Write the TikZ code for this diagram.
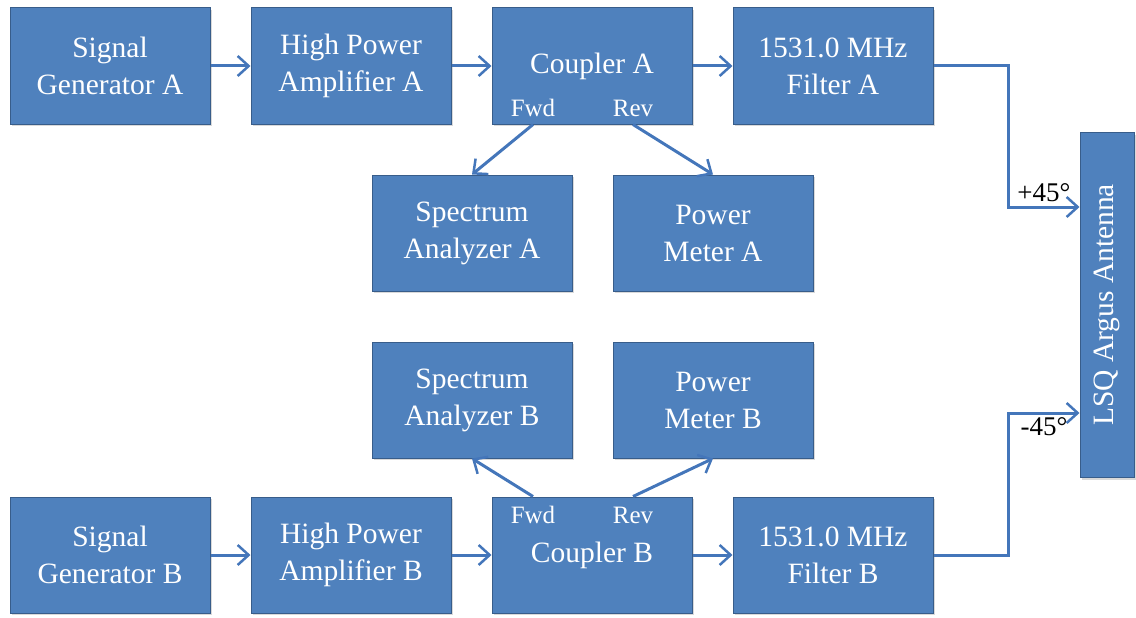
\documentclass[tikz,border=0pt]{standalone}
\usepackage{fontspec}
\setmainfont{Liberation Serif}
\usepackage{xcolor}
\definecolor{boxfill}{RGB}{79,129,189}
\definecolor{boxline}{RGB}{56,93,138}
\definecolor{wire}{RGB}{68,118,186}
\usetikzlibrary{arrows.meta,positioning,shadows}

\begin{document}
\begin{tikzpicture}[
  blockbox/.style={draw=boxline, fill=boxfill, line width=1pt, minimum width=200pt, minimum height=116pt, inner sep=0pt, align=center, text=white, font=\fontsize{29.5}{37}\selectfont, drop shadow={shadow xshift=2pt, shadow yshift=-2pt, opacity=0.3}},
  portlabel/.style={text=white, font=\fontsize{25}{28}\selectfont, inner sep=1pt},
  anglelabel/.style={text=black, font=\fontsize{27}{30}\selectfont},
  arrow/.style={-{Straight Barb[length=11pt, width=20pt, line width=2.5pt]}, line width=3pt, color=wire}
]
\useasboundingbox (0,0) rectangle (1136pt,-618pt);

% chain A
\node[blockbox] (genA) at (110pt,-66pt) {Signal\\Generator A};
\node[blockbox, right=40pt of genA] (hpaA) {High Power\\Amplifier A};
\node[blockbox, right=40pt of hpaA] (cplA) {Coupler A};
\node[blockbox, right=40pt of cplA] (filA) {1531.0 MHz\\Filter A};
\node[blockbox] (specA) at (472pt,-233pt) {Spectrum\\Analyzer A};
\node[blockbox, right=40pt of specA] (pmA) {Power\\Meter A};
\node[portlabel] (fwdA) at (533pt,-108pt) {Fwd};
\node[portlabel] (revA) at (633pt,-108pt) {Rev};

% chain B
\node[blockbox] (genB) at (110pt,-555pt) {Signal\\Generator B};
\node[blockbox, right=40pt of genB] (hpaB) {High Power\\Amplifier B};
\node[blockbox, right=40pt of hpaB] (cplB) {Coupler B};
\node[blockbox, right=40pt of cplB] (filB) {1531.0 MHz\\Filter B};
\node[blockbox] (specB) at (472pt,-400pt) {Spectrum\\Analyzer B};
\node[blockbox, right=40pt of specB] (pmB) {Power\\Meter B};
\node[portlabel] (fwdB) at (533pt,-515pt) {Fwd};
\node[portlabel] (revB) at (633pt,-515pt) {Rev};

% antenna
\node[blockbox, minimum width=54pt, minimum height=345pt] (ant) at (1107pt,-305pt) {};
\node[rotate=90, text=white, font=\fontsize{29.5}{37}\selectfont] (antlbl) at (ant.center) {LSQ Argus Antenna};

\draw[arrow] (genA) -- (hpaA);
\draw[arrow] (hpaA) -- (cplA);
\draw[arrow] (cplA) -- (filA);
\draw[arrow] (fwdA.south |- cplA.south) -- (specA.north);
\draw[arrow] (revA.south |- cplA.south) -- (pmA.north);

\draw[arrow] (genB) -- (hpaB);
\draw[arrow] (hpaB) -- (cplB);
\draw[arrow] (cplB) -- (filB);
\draw[arrow] (fwdB.north |- cplB.north) -- (specB.south);
\draw[arrow] (revB.north |- cplB.north) -- (pmB.south);

\draw[arrow] (filA.east) -- ++(75pt,0) |- node[anglelabel, pos=0.75, above] {+45°} ([yshift=98pt]ant.west);
\draw[arrow] (filB.east) -- ++(75pt,0) |- node[anglelabel, pos=0.75, below] {-45°} ([yshift=-108pt]ant.west);
\end{tikzpicture}
\end{document}
